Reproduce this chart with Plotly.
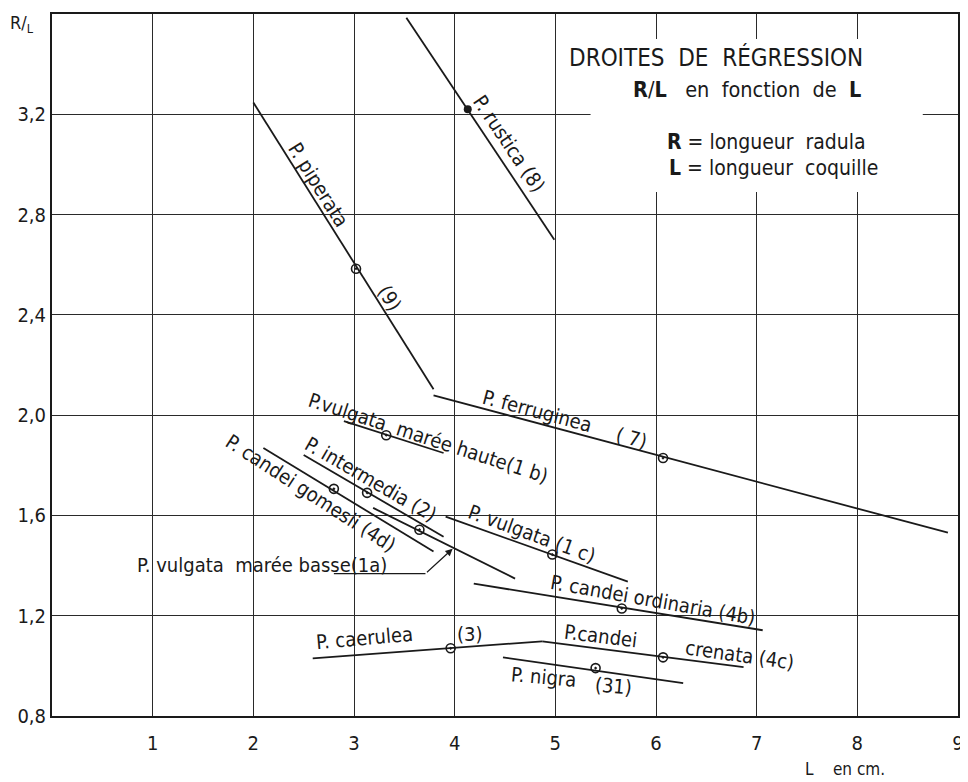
import plotly.graph_objects as go

# ---------------- data ----------------
species = ["rustica (8)", "piperata (9)", "ferruginea (7)", "vulgata haute (1b)",
           "intermedia (2)", "candei gomesii (4d)", "vulgata basse (1a)", "vulgata (1c)",
           "candei ordinaria (4b)", "caerulea (3)", "candei crenata (4c)", "nigra (31)"]
x_start = [3.52, 2.00, 3.79, 2.90, 2.50, 2.10, 3.19, 3.91, 4.19, 2.59, 4.87, 4.48]
x_end   = [4.99, 3.79, 8.90, 3.89, 3.89, 3.79, 4.60, 5.72, 7.06, 4.87, 6.87, 6.27]
y_start = [3.585, 3.247, 2.079, 1.976, 1.841, 1.869, 1.630, 1.595, 1.328, 1.030, 1.098, 1.034]
y_end   = [2.700, 2.103, 1.531, 1.849, 1.515, 1.456, 1.348, 1.336, 1.142, 1.098, 0.995, 0.931]
mean_x  = [4.13, 3.02, 6.07, 3.32, 3.13, 2.80, 3.65, 4.97, 5.66, 3.96, 6.07, 5.40]
mean_y  = [3.22, 2.584, 1.829, 1.920, 1.690, 1.706, 1.543, 1.444, 1.229, 1.070, 1.034, 0.991]

x_ticks = [1, 2, 3, 4, 5, 6, 7, 8, 9]
y_ticks = [0.8, 1.2, 1.6, 2.0, 2.4, 2.8, 3.2]
y_tick_labels = ["0,8", "1,2", "1,6", "2,0", "2,4", "2,8", "3,2"]

# labels along the lines: text, x, y, angle
label_text = ["P. rustica (8)", "P. piperata", "(9)", "P. ferruginea", "( 7)",
              "P.vulgata\u00a0 marée haute(1 b)", "P. intermedia (2)", "P. candei gomesii (4d)",
              "P. vulgata (1 c)", "P. candei ordinaria (4b)", "P. caerulea", "(3)",
              "P.candei", "crenata (4c)", "P. nigra", "(31)"]
label_x = [4.543, 2.648, 3.362, 4.821, 5.754, 3.739, 3.164, 2.568,
           4.772, 5.973, 3.104, 4.156, 5.447, 6.836, 4.881, 5.576]
label_y = [3.081, 2.918, 2.465, 2.016, 1.908, 1.908, 1.746, 1.690,
           1.525, 1.261, 1.110, 1.126, 1.118, 1.042, 0.955, 0.919]
label_angle = [56, 58, 58, 15, 15, 18, 30, 33, 20, 10, -5, 0, 7, 8, 5, 5]

# pointer for "P. vulgata marée basse (1a)"
basse_label = "P. vulgata\u00a0\u00a0marée basse(1a)"
basse_label_xy = (2.082, 1.404)
basse_line_x = [2.80, 3.71]
basse_line_y = [1.368, 1.368]
basse_arrow_tip = (3.98, 1.467)

FONT = "DejaVu Sans Condensed, Liberation Sans Narrow, DejaVu Sans, sans-serif"
INK = "#1a1a1a"
LABEL_SIZE = 20

fig = go.Figure()

for i, name in enumerate(species):
    fig.add_trace(go.Scatter(
        x=[x_start[i], x_end[i]], y=[y_start[i], y_end[i]],
        mode="lines", line=dict(color=INK, width=1.8),
        name=name, showlegend=False, hoverinfo="skip"))

fig.add_trace(go.Scatter(
    x=mean_x[1:], y=mean_y[1:], mode="markers",
    marker=dict(symbol="circle-open-dot", size=9, color=INK, line=dict(width=1.6)),
    showlegend=False))
fig.add_trace(go.Scatter(
    x=mean_x[:1], y=mean_y[:1], mode="markers",
    marker=dict(symbol="circle", size=8, color=INK),
    showlegend=False))

# pointer line for 1a
fig.add_trace(go.Scatter(
    x=basse_line_x, y=basse_line_y, mode="lines",
    line=dict(color=INK, width=1.2), showlegend=False, hoverinfo="skip"))
fig.add_annotation(x=basse_arrow_tip[0], y=basse_arrow_tip[1], ax=basse_line_x[1], ay=basse_line_y[1],
                   xref="x", yref="y", axref="x", ayref="y", text="", showarrow=True,
                   arrowhead=2, arrowsize=1.2, arrowwidth=1.2, arrowcolor=INK)
fig.add_annotation(x=basse_label_xy[0], y=basse_label_xy[1], xref="x", yref="y",
                   text=basse_label, showarrow=False,
                   font=dict(family=FONT, size=LABEL_SIZE, color=INK))

for t, lx, ly, a in zip(label_text, label_x, label_y, label_angle):
    fig.add_annotation(x=lx, y=ly, xref="x", yref="y", text=t, textangle=a,
                       showarrow=False, font=dict(family=FONT, size=LABEL_SIZE, color=INK))

# white box behind the title block
fig.add_shape(type="rect", x0=5.35, x1=8.65, y0=2.89, y1=3.50, xref="x", yref="y",
              fillcolor="white", line=dict(width=0), layer="between")

fig.add_annotation(x=6.598, y=3.426, xref="x", yref="y",
                   text="DROITES\u00a0 DE\u00a0 RÉGRESSION", showarrow=False,
                   font=dict(family=FONT, size=24, color=INK))
fig.add_annotation(x=6.906, y=3.299, xref="x", yref="y",
                   text="<b>R</b>/<b>L</b>\u00a0\u00a0 en\u00a0 fonction\u00a0 de\u00a0 <b>L</b>", showarrow=False,
                   font=dict(family=FONT, size=21.5, color=INK))
fig.add_annotation(x=6.092, y=3.088, xref="x", yref="y", xanchor="left",
                   text="<b>R</b> = longueur\u00a0 radula", showarrow=False,
                   font=dict(family=FONT, size=21, color=INK))
fig.add_annotation(x=6.112, y=2.985, xref="x", yref="y", xanchor="left",
                   text="<b>L</b> = longueur\u00a0 coquille", showarrow=False,
                   font=dict(family=FONT, size=21, color=INK))

# axis titles
fig.add_annotation(x=-0.033, y=0.986, xref="paper", yref="paper",
                   xanchor="center", yanchor="middle",
                   text="R/<sub>L</sub>", showarrow=False,
                   font=dict(family=FONT, size=18, color=INK))
fig.add_annotation(x=0.875, y=-0.075, xref="paper", yref="paper",
                   xanchor="center", yanchor="middle",
                   text="L\u00a0\u00a0\u00a0 en cm.", showarrow=False,
                   font=dict(family=FONT, size=17, color=INK))

fig.update_xaxes(range=[0, 9], tickvals=x_ticks, ticktext=[str(v) for v in x_ticks],
                 showgrid=True, gridcolor="#2a2a2a", gridwidth=1,
                 showline=True, linecolor=INK, linewidth=2, mirror=True,
                 ticks="", zeroline=False, ticklabelstandoff=8,
                 tickfont=dict(family=FONT, size=20, color=INK))
fig.update_yaxes(range=[0.8, 3.6], tickvals=y_ticks, ticktext=y_tick_labels,
                 showgrid=True, gridcolor="#2a2a2a", gridwidth=1,
                 showline=True, linecolor=INK, linewidth=2, mirror=True,
                 ticks="", zeroline=False, ticklabelstandoff=0,
                 tickfont=dict(family=FONT, size=20, color=INK))

# the page body has an 8px margin, so the figure is 8px smaller than the window
fig.update_layout(width=960, height=774, margin=dict(l=44, r=10, t=4, b=66),
                  plot_bgcolor="white", paper_bgcolor="white", showlegend=False)

fig.write_html("out.html")
